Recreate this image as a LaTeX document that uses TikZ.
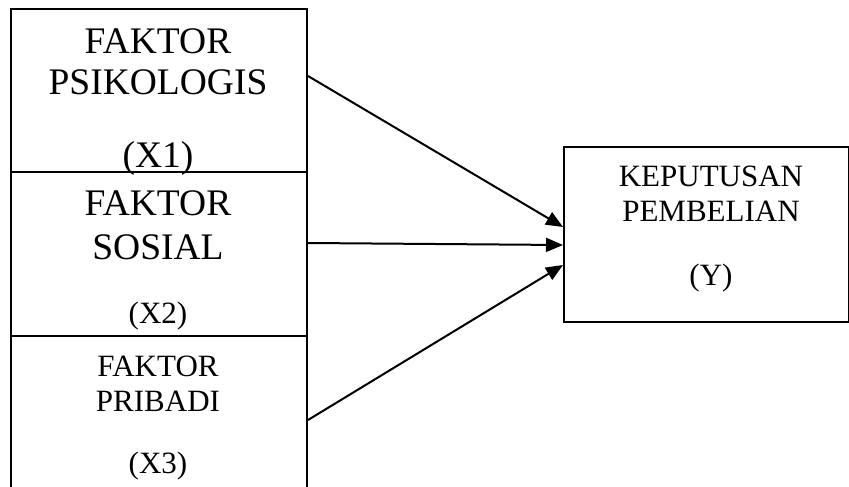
\documentclass[tikz,border=0pt]{standalone}
\usepackage{fontspec}
\setmainfont{Liberation Serif}
\usepackage{tikz}
\usetikzlibrary{arrows.meta,positioning,calc}

\begin{document}
\begin{tikzpicture}[
    x=1pt, y=-1pt,
    box/.style={rectangle, draw, line width=2pt, inner sep=0pt, anchor=north west},
    lbl/.style={inner sep=0pt, anchor=base, align=center},
    arrow/.style={-{Triangle[length=17pt,width=14pt]}, line width=2pt}
]
    \useasboundingbox (0,0) rectangle (849,487);

    % independent variables
    \node[box, minimum width=296pt, minimum height=163pt] (psi) at (10,8) {};
    \node[box, minimum width=296pt, minimum height=164pt] (sos) at (10,171) {};
    \node[box, minimum width=296pt, minimum height=160pt] (pri) at (10,335) {};

    % dependent variable
    \node[box, minimum width=285pt, minimum height=175pt] (kep) at (563,146) {};

    \node[lbl, font=\fontsize{37.5}{41}\selectfont] (psitext) at (158,95) {FAKTOR\\PSIKOLOGIS};
    \node[lbl, font=\fontsize{37.5}{41}\selectfont] (psicode) at (158,167) {(X1)};

    \node[lbl, font=\fontsize{37.5}{44}\selectfont] (sostext) at (158,259) {FAKTOR\\SOSIAL};
    \node[lbl, font=\fontsize{31}{35}\selectfont] (soscode) at (158,323) {(X2)};

    \node[lbl, font=\fontsize{31}{35}\selectfont] (pritext) at (158,411) {FAKTOR\\PRIBADI};
    \node[lbl, font=\fontsize{31}{35}\selectfont] (pricode) at (158,473) {(X3)};

    \node[lbl, font=\fontsize{31}{35}\selectfont] (keptext) at (711,221) {KEPUTUSAN\\PEMBELIAN};
    \node[lbl, font=\fontsize{31}{35}\selectfont] (kepcode) at (711,285) {(Y)};

    \draw[arrow] ([yshift=14.5pt]psi.east) -- ([yshift=7.5pt]kep.west);
    \draw[arrow] ([yshift=11pt]sos.east) -- ([yshift=-10.5pt]kep.west);
    \draw[arrow] ([yshift=-4pt]pri.east) -- ([yshift=-30.5pt]kep.west);
\end{tikzpicture}
\end{document}
